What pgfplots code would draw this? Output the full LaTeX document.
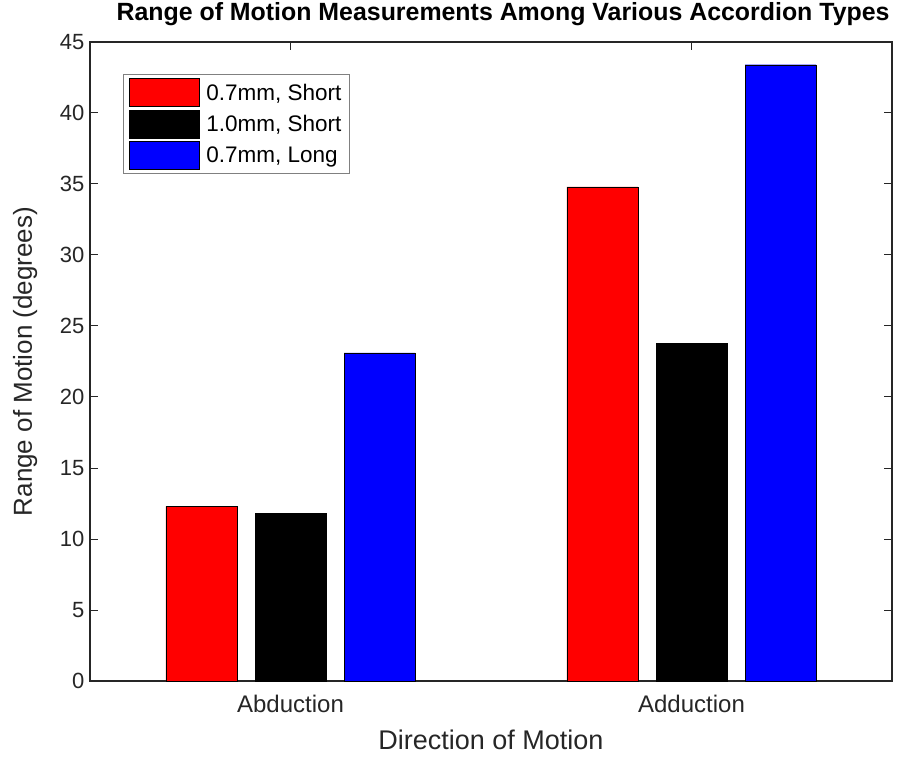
\documentclass[border=0pt]{standalone}
\usepackage{pgfplots}
\pgfplotsset{compat=1.18}
\usepackage{pgfplotstable}
\usepackage{fontspec}
\setmainfont{Liberation Sans}
\definecolor{axgray}{RGB}{38,38,38}
\pgfplotstableread{
x val
1 12.3
2 34.8
}\redshort
\pgfplotstableread{
x val
1 11.8
2 23.8
}\blackshort
\pgfplotstableread{
x val
1 23.1
2 43.4
}\bluelong
\begin{document}
\begin{tikzpicture}
\useasboundingbox (-90pt,-75pt) rectangle (808pt,681pt);
\begin{axis}[
  scale only axis,
  width=802pt, height=639pt,
  xmin=0.5, xmax=2.5,
  ymin=0, ymax=45,
  xtick={1,2},
  xticklabels={Abduction,Adduction},
  ytick={0,5,...,45},
  ybar,
  bar width=0.177,
  tick align=inside,
  major tick length=8pt,
  axis line style={axgray, line width=1.2pt},
  tick style={axgray, line width=1pt},
  ticklabel style={text=axgray, font=\fontsize{22}{26}\selectfont},
  /pgf/number format/assume math mode=true,
  xticklabel style={yshift=-11pt, font=\fontsize{24}{28}\selectfont},
  yticklabel style={xshift=-2pt},
  xlabel={Direction of Motion},
  ylabel={Range of Motion (degrees)},
  label style={text=axgray, font=\fontsize{26}{30}\selectfont},
  xlabel style={at={(axis description cs:0.5,-0.092)}, anchor=center, font=\fontsize{27}{31}\selectfont},
  ylabel style={at={(axis description cs:-0.081,0.5)}, anchor=center},
  title={Range of Motion Measurements Among Various Accordion Types},
  title style={at={(axis description cs:0.515,1.034)}, anchor=center, font=\bfseries\fontsize{24.9}{28}\selectfont},
  legend style={at={(axis description cs:0.041,0.95)}, anchor=north west,
    draw=gray, line width=1pt, fill=white,
    font=\fontsize{22.5}{26}\selectfont,
    nodes={inner sep=2pt}, row sep=2.5pt,
    inner xsep=6pt, inner ysep=4pt},
  legend cell align=left,
  legend image code/.code={\draw[#1, line width=0.8pt] (0pt,-14pt) rectangle (70pt,14pt); \path (74pt,0pt);},
]
\addplot[fill={rgb,255:red,255;green,0;blue,0}, draw=black, bar shift=-0.222] table[x=x,y=val]{\redshort};
\addlegendentry{0.7mm, Short}
\addplot[fill=black, draw=black, bar shift=0] table[x=x,y=val]{\blackshort};
\addlegendentry{1.0mm, Short}
\addplot[fill={rgb,255:red,0;green,0;blue,255}, draw=black, bar shift=0.222] table[x=x,y=val]{\bluelong};
\addlegendentry{0.7mm, Long}
\end{axis}
\end{tikzpicture}
\end{document}
